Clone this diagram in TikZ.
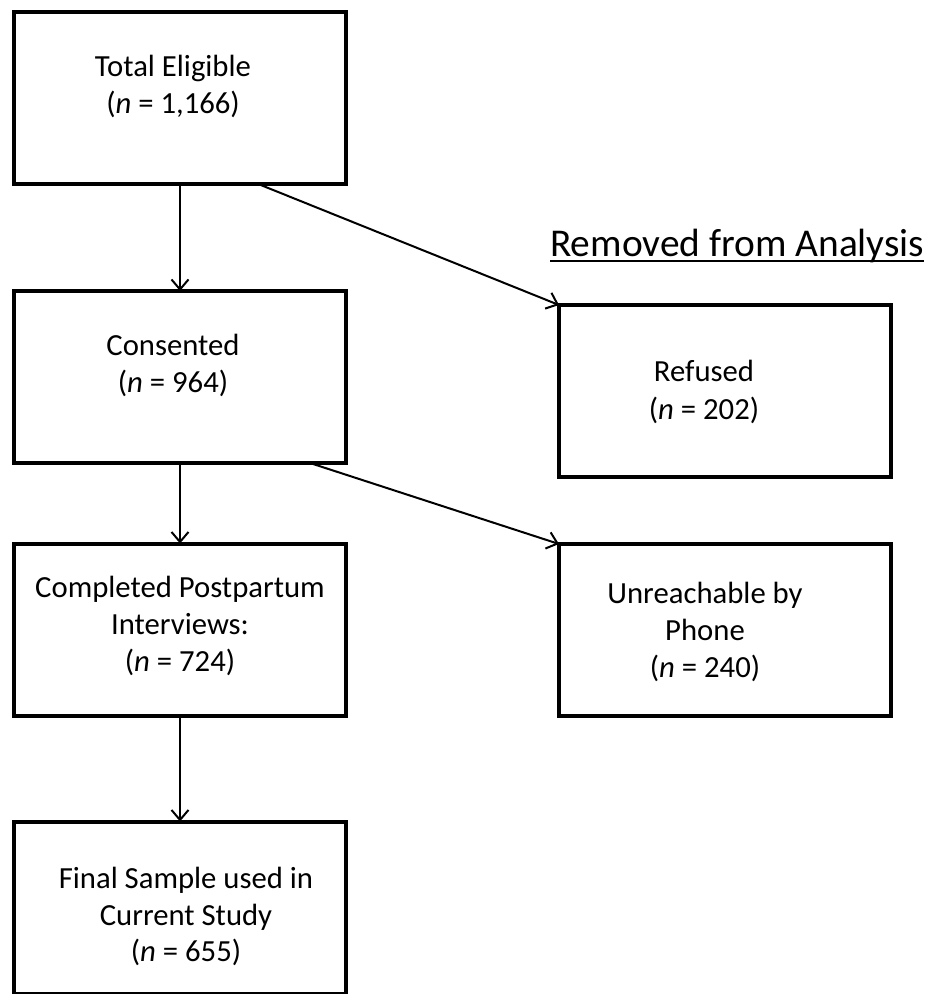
\documentclass[tikz,border=0pt]{standalone}
\usepackage{fontspec}
\setmainfont{Carlito}
\usetikzlibrary{arrows.meta}
\begin{document}
\begin{tikzpicture}[x=1pt,y=-1pt,
  box/.style={draw=black,line width=4pt,minimum width=332pt,minimum height=172pt,inner sep=0pt,outer sep=0pt},
  txt/.style={anchor=base,inner sep=0pt,font=\fontsize{30.7}{37}\selectfont},
  conn/.style={draw=black,line width=2pt,-{Straight Barb[length=10pt,width=17pt,line width=2pt]}}]
\useasboundingbox (0,0) rectangle (930,994);
% boxes
\node[box] (tot) at (180,97.5) {};
\node[box] (con) at (180,377) {};
\node[box] (cmp) at (180,629.5) {};
\node[box] (fin) at (180,907.5) {};
\node[box] (ref) at (725,391) {};
\node[box] (une) at (725,630) {};
% texts
\node[txt] (tot1) at (173,76) {Total Eligible};
\node[txt] (tot2) at (173,113) {(\textit{n} = 1,166)};
\node[txt] (con1) at (173,355) {Consented};
\node[txt] (con2) at (173,392) {(\textit{n} = 964)};
\node[txt] (cmp1) at (180,597) {Completed Postpartum};
\node[txt] (cmp2) at (180,634) {Interviews:};
\node[txt] (cmp3) at (180,671) {(\textit{n} = 724)};
\node[txt] (fin1) at (186,888) {Final Sample used in};
\node[txt] (fin2) at (186,925) {Current Study};
\node[txt] (fin3) at (186,961) {(\textit{n} = 655)};
\node[txt] (ref1) at (704,381) {Refused};
\node[txt] (ref2) at (704,419) {(\textit{n} = 202)};
\node[txt] (une1) at (705,603) {Unreachable by};
\node[txt] (une2) at (705,640) {Phone};
\node[txt] (une3) at (705,677) {(\textit{n} = 240)};
\node[txt,anchor=base west,font=\fontsize{39.4}{47}\selectfont] (rem) at (550,256) {Removed from Analysis};
\draw[line width=2.5pt] ([yshift=-5pt]rem.base west) -- ([yshift=-5pt]rem.base east);
% connectors
\draw[conn] (tot.south) -- (con.north);
\draw[conn] (con.south) -- (cmp.north);
\draw[conn] (cmp.south) -- (fin.north);
\draw[conn] ([xshift=77pt]tot.south) -- (ref.north west);
\draw[conn] ([xshift=130pt]con.south) -- (une.north west);
\end{tikzpicture}
\end{document}
